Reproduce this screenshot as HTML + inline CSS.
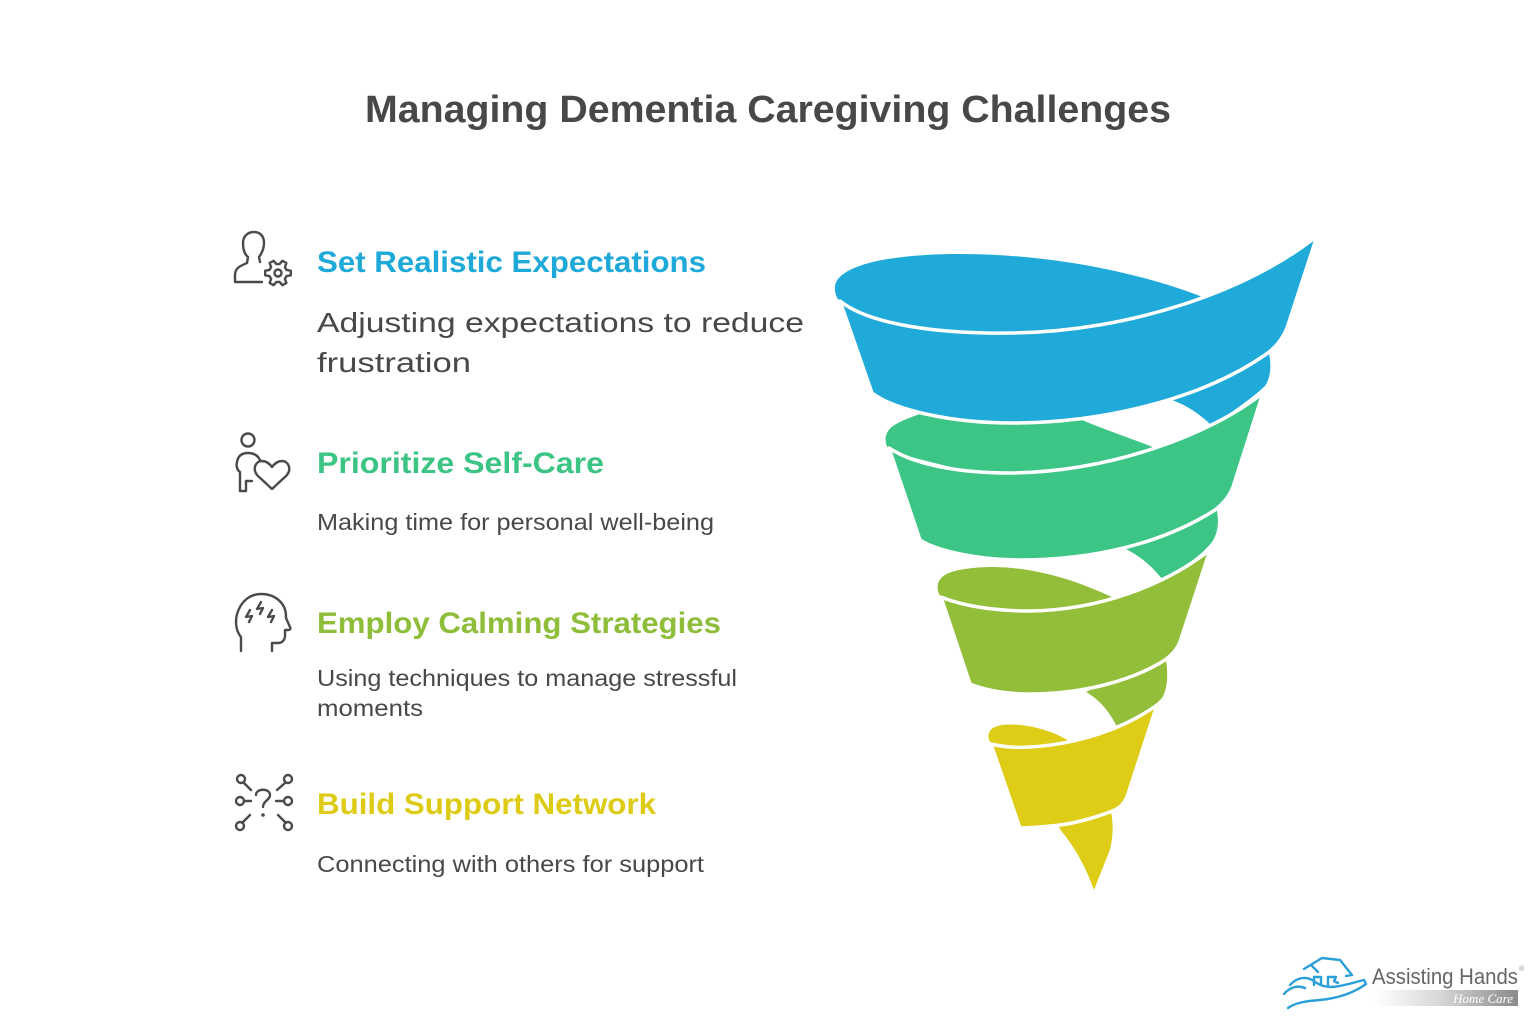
<!DOCTYPE html>
<html>
<head>
<meta charset="utf-8">
<style>
html,body{margin:0;padding:0;background:#fff;}
body{width:1536px;height:1024px;overflow:hidden;}
svg{display:block;}
text{font-family:"Liberation Sans",Arial,sans-serif;}
</style>
</head>
<body>
<svg width="1536" height="1024" viewBox="0 0 1536 1024" xmlns="http://www.w3.org/2000/svg">
<defs>
<linearGradient id="bar" x1="0" y1="0" x2="1" y2="0">
<stop offset="0" stop-color="#ffffff"/>
<stop offset="0.45" stop-color="#d8d8d8"/>
<stop offset="1" stop-color="#8a8a8a"/>
</linearGradient>
</defs>

<!-- Title -->
<text x="768" y="122" text-anchor="middle" font-size="38" font-weight="bold" fill="#484848" textLength="806" lengthAdjust="spacingAndGlyphs">Managing Dementia Caregiving Challenges</text>

<!-- Headings & descriptions -->
<text x="317" y="272" font-size="30" font-weight="bold" fill="#1FA9D9" textLength="389" lengthAdjust="spacingAndGlyphs">Set Realistic Expectations</text>
<text x="317" y="332" font-size="28" fill="#484848" textLength="487" lengthAdjust="spacingAndGlyphs">Adjusting expectations to reduce</text>
<text x="317" y="372" font-size="28" fill="#484848" textLength="154" lengthAdjust="spacingAndGlyphs">frustration</text>

<text x="317" y="473" font-size="30" font-weight="bold" fill="#3CC484" textLength="287" lengthAdjust="spacingAndGlyphs">Prioritize Self-Care</text>
<text x="317" y="530" font-size="23" fill="#484848" textLength="397" lengthAdjust="spacingAndGlyphs">Making time for personal well-being</text>

<text x="317" y="633" font-size="30" font-weight="bold" fill="#8EBD3A" textLength="404" lengthAdjust="spacingAndGlyphs">Employ Calming Strategies</text>
<text x="317" y="686" font-size="23" fill="#484848" textLength="420" lengthAdjust="spacingAndGlyphs">Using techniques to manage stressful</text>
<text x="317" y="716" font-size="23" fill="#484848" textLength="106" lengthAdjust="spacingAndGlyphs">moments</text>

<text x="317" y="814" font-size="30" font-weight="bold" fill="#DDCB15" textLength="339" lengthAdjust="spacingAndGlyphs">Build Support Network</text>
<text x="317" y="872" font-size="23" fill="#484848" textLength="387" lengthAdjust="spacingAndGlyphs">Connecting with others for support</text>

<!-- Icons -->
<g fill="none" stroke="#4a4a4a" stroke-width="2.4" stroke-linecap="round" stroke-linejoin="round">
  <!-- icon 1: person + gear -->
  <path d="M262,282 L235,282 L235,275 C235,268 240,266 247,263 L248,257 C244,254 243,249 243,243 C243,236 248,232 254,232 C260,232 264,236 264,243 C264,248 262,253 259,257 L260,262"/>
  <polygon points="286.5,269.9 290.8,270.7 290.8,275.3 286.5,276.1 284.9,278.8 286.4,283 282.4,285.2 279.6,281.9 276.4,281.9 273.6,285.2 269.6,283 271.1,278.8 269.5,276.1 265.2,275.3 265.2,270.7 269.5,269.9 271.1,267.2 269.6,263 273.6,260.8 276.4,264.1 279.6,264.1 282.4,260.8 286.4,263 284.9,267.2"/>
  <circle cx="278" cy="273" r="3.5"/>

  <!-- icon 2: person + heart -->
  <circle cx="248" cy="440" r="6.5"/>
  <path d="M240,491 L240,472 C237,470 236,466 237,462 C238,456 242,453 248,453 C254,453 258,456 260,460"/>
  <path d="M240,491 L246,491 L246,481 L252,481"/>
  <path d="M272,489 L258,476 C252,470 255,461 262,461 C266,461 269,463 272,467 C275,463 278,461 282,461 C289,461 292,470 286,476 Z"/>

  <!-- icon 3: head with lightning -->
  <path d="M241,651 L241,637 C236,631 235,622 237,614 C241,601 250,594 261,594 C276,594 286,604 286,616 L286,618 L290,627 C291,629 290,630 288,630 L285,630 L285,636 C285,640 282,643 278,643 L272,643 L272,651"/>
  <path d="M250,610 L246,617 L252,616 L249,622"/>
  <path d="M261,602 L257,609 L263,608 L260,614"/>
  <path d="M272,610 L268,617 L274,616 L271,622"/>

  <!-- icon 4: network question -->
  <circle cx="241" cy="779" r="4"/>
  <circle cx="288" cy="779" r="4"/>
  <circle cx="240" cy="801" r="4"/>
  <circle cx="288" cy="801" r="4"/>
  <circle cx="240" cy="826" r="4"/>
  <circle cx="288" cy="826" r="4"/>
  <path d="M244,783 L251,790"/>
  <path d="M285,783 L277,790"/>
  <path d="M244,801 L251,801"/>
  <path d="M284,801 L276,801"/>
  <path d="M243,822 L250,815"/>
  <path d="M285,822 L278,815"/>
  <path d="M256,795 C256,788 270,788 270,795 C270,800 263,801 263,807"/>
</g>
<circle cx="263" cy="815" r="1.8" fill="#4a4a4a"/>

<!-- Funnel: loops (back/inside) -->
<path fill="#1FAAD9" d="M841,303 C834,296 833,285 838,279 C852,262 900,254 960,254 C1060,254 1150,276 1205,298 L1100,330 L1010,340 L900,332 Z"/>
<path fill="#3CC585" d="M891,452 C883,444 884,432 893,426 C902,420 912,417 925,412 L1000,405 L1060,410 C1090,425 1125,436 1158,449 L1010,482 Z"/>
<path fill="#92BE3A" d="M943,599 C935,592 936,580 945,575 C955,569 975,567 995,567 C1040,568 1080,582 1114,598 L1030,618 Z"/>
<path fill="#DECC16" d="M993,746 C987,740 987,732 993,728 C1000,724 1010,724 1020,725 C1040,727 1060,734 1073,744 L1030,754 Z"/>

<!-- back pieces -->
<path fill="#1FAAD9" d="M1255,340 L1268,350 C1272,363 1271,377 1265,386 C1250,400 1230,413 1212,426 C1200,414 1188,406 1172,400 L1200,380 Z"/>
<path fill="#3CC585" d="M1205,500 L1216,506 C1219,518 1219,532 1212,542 C1200,557 1183,567 1163,580 C1152,566 1140,556 1124,548 L1150,530 Z"/>
<path fill="#92BE3A" d="M1150,658 L1166,660 C1168,673 1168,688 1162,698 C1150,711 1135,719 1118,729 C1110,712 1100,700 1086,692 L1120,675 Z"/>
<!-- yellow tail -->
<path fill="#DECC16" d="M1058,826 L1111,812 C1114,826 1113,845 1107,857 L1094,890 C1085,865 1075,848 1062,832 Z"/>

<!-- front bands -->
<g stroke="#ffffff" stroke-width="3.5" stroke-linejoin="round">
<path fill="#1FAAD9" d="M840,301 C870,325 940,334 1010,333 C1130,332 1250,290 1317,236 L1287,328 Q1280,345 1265,355 C1200,400 1100,423 1013,423 C950,423 895,410 872,393 Z"/>
<path fill="#3CC585" d="M889,448 C915,465 960,473 1010,473 C1110,472 1210,435 1263,393 L1233,487 Q1228,500 1215,510 C1160,545 1090,560 1020,560 C975,560 935,550 920,540 Z"/>
<path fill="#92BE3A" d="M941,597 C965,607 1000,611 1030,611 C1100,610 1165,585 1210,550 L1180,642 Q1176,652 1165,660 C1130,682 1080,694 1030,694 C1005,694 985,690 970,684 Z"/>
<path fill="#DECC16" d="M991,744 C1003,747 1015,748 1030,747 C1080,744 1125,728 1157,705 L1127,797 Q1123,806 1115,810 C1095,818 1070,825 1050,826 C1040,827 1030,828 1020,828 Z"/>
</g>

<!-- Logo -->
<g fill="none" stroke="#2A9FD8" stroke-width="2.4" stroke-linecap="round" stroke-linejoin="round">
  <path d="M1304,969 L1322,958 L1340,960 L1352,975 L1346,976"/>
  <path d="M1312,966 L1318,972"/>
  <path d="M1314,985 L1314,977 L1321,977 L1321,985"/>
  <path d="M1328,986 L1328,977 L1336,977 L1334,981 L1338,983"/>
  <path d="M1290,985 C1296,978 1305,976 1312,980 C1318,984 1322,987 1332,987 C1345,986 1355,982 1364,980 L1366,984 C1355,992 1340,998 1320,1000 C1305,1001 1295,1003 1288,1008"/>
  <path d="M1284,994 C1290,987 1298,985 1305,988"/>
</g>
<text x="1372" y="984" font-size="22" fill="#666666" textLength="146" lengthAdjust="spacingAndGlyphs">Assisting Hands</text>
<text x="1519" y="971" font-size="7" fill="#888">®</text>
<rect x="1375" y="990" width="143" height="16" fill="url(#bar)"/>
<text x="1513" y="1003" text-anchor="end" style="font-family:'Liberation Serif',serif;font-style:italic;" font-size="13" fill="#ffffff">Home Care</text>
</svg>
</body>
</html>
